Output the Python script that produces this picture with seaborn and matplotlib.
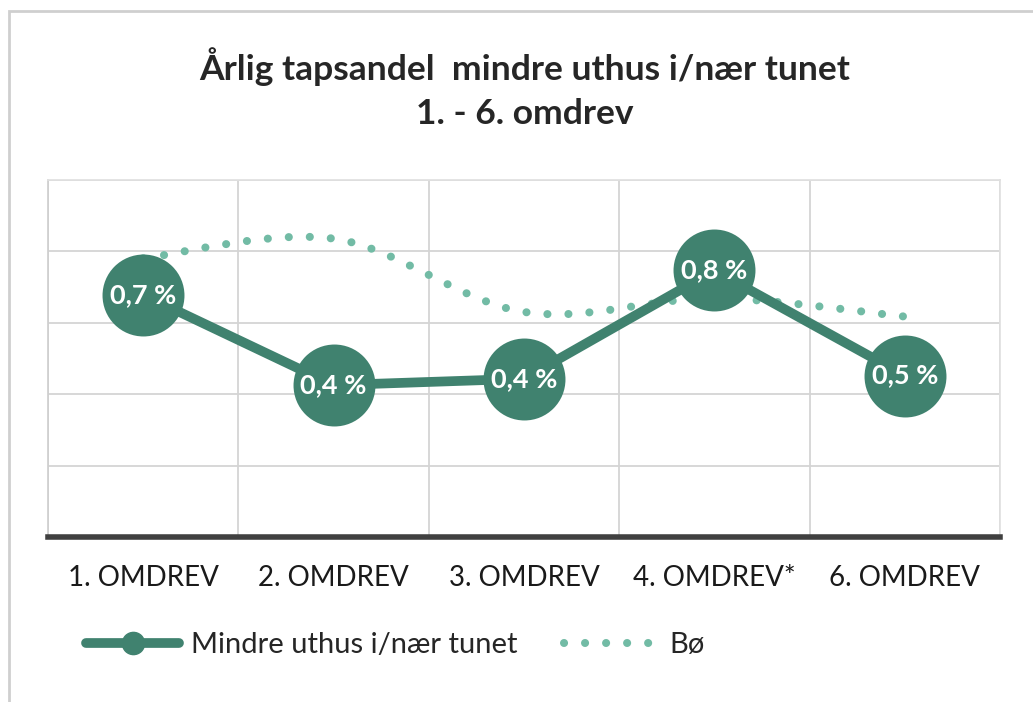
import numpy as np
import seaborn as sns
import matplotlib.pyplot as plt
from matplotlib.path import Path
from matplotlib.patches import PathPatch, Rectangle
from matplotlib.lines import Line2D

# data
categories = ["1. OMDREV", "2. OMDREV", "3. OMDREV", "4. OMDREV*", "6. OMDREV"]
uthus = [0.678, 0.425, 0.443, 0.746, 0.452]
uthus_labels = ["0,7 %", "0,4 %", "0,4 %", "0,8 %", "0,5 %"]
bo = [0.78, 0.835, 0.63, 0.668, 0.617]

dark = "#40826F"
light = "#72BBA5"

sns.set_theme(style="white")
plt.rcParams["font.family"] = ["Lato", "DejaVu Sans"]

fig = plt.figure(figsize=(10.33, 7.02), dpi=100)
ax = fig.add_axes([0.0465, 0.235, 0.9215, 0.509])

x = np.arange(len(categories))
ax.set_xlim(-0.5, len(categories) - 0.5)
ax.set_ylim(0, 1.0)

# grid
ax.set_yticks(np.arange(0, 1.01, 0.2))
ax.set_xticks(np.arange(-0.5, len(categories), 1.0))
ax.grid(True, color="#d4d4d4", linewidth=1.3)
ax.tick_params(left=False, bottom=False, labelleft=False, labelbottom=False)
for side in ["top", "right"]:
    ax.spines[side].set_color("#e0e0e0")
ax.spines["left"].set_color("#cfcfcf")
ax.spines["bottom"].set_color("#404040")
ax.spines["bottom"].set_linewidth(4)

# Bø, smoothed dotted line (Excel-style smooth curve)
pts = np.column_stack([x, bo])
ext = np.vstack([pts[0], pts, pts[-1]])
verts = [tuple(pts[0])]
codes = [Path.MOVETO]
for i in range(len(pts) - 1):
    p0, p1, p2, p3 = ext[i], ext[i + 1], ext[i + 2], ext[i + 3]
    c1 = p1 + (p2 - p0) / 6
    c2 = p2 - (p3 - p1) / 6
    verts += [tuple(c1), tuple(c2), tuple(p2)]
    codes += [Path.CURVE4] * 3
ax.add_patch(PathPatch(Path(verts, codes), fill=False, edgecolor=light,
                       linewidth=5.8, linestyle=(0, (0.01, 2.6)),
                       capstyle="round", zorder=2))

# main series
sns.lineplot(x=x, y=uthus, ax=ax, color=dark, linewidth=7, marker="o",
             markersize=59, markeredgewidth=0, zorder=3)
for xi, v, lab in zip(x, uthus, uthus_labels):
    ax.text(xi, v, lab, ha="center", va="center", color="white",
            fontsize=19.5, fontweight="bold", zorder=4)

# category labels
for xi, c in zip(x, categories):
    ax.text(xi, -0.115, c, ha="center", va="center", fontsize=20,
            color="#1a1a1a", clip_on=False)

fig.text(0.508, 0.905, "Årlig tapsandel  mindre uthus i/nær tunet",
         ha="center", va="center", fontsize=25.5, fontweight="bold")
fig.text(0.508, 0.838, "1. - 6. omdrev", ha="center", va="center",
         fontsize=25.5, fontweight="bold")

handles = [
    Line2D([], [], color=dark, linewidth=7, marker="o", markersize=16,
           solid_capstyle="round"),
    Line2D([], [], color=light, linewidth=5.8, linestyle=(0, (0.01, 2.6)),
           dash_capstyle="round"),
]
leg = fig.legend(handles, ["Mindre uthus i/nær tunet", "Bø"], ncol=2,
                 loc="center left", bbox_to_anchor=(0.058, 0.081), frameon=False,
                 fontsize=21, handlelength=3.2, columnspacing=1.6,
                 handletextpad=0.4)

# outer frame
fig.add_artist(Rectangle((0.009, -0.02), 1.1, 1.005, transform=fig.transFigure,
                         fill=False, edgecolor="#cfcfcf", linewidth=2))

fig.savefig("out.png", dpi=100)
